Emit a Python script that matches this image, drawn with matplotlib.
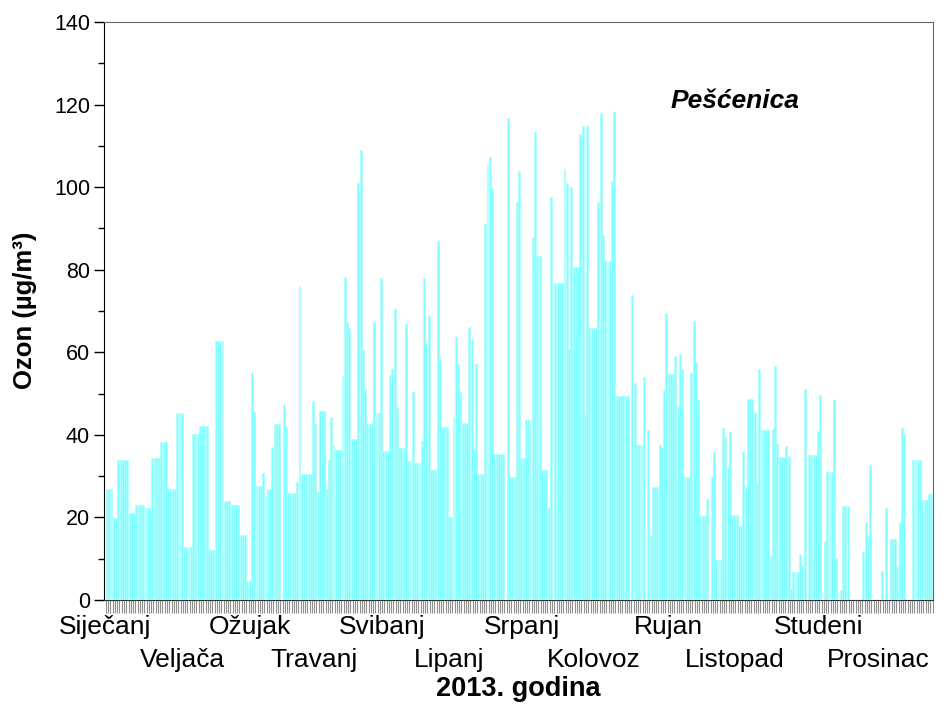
import matplotlib
matplotlib.use("Agg")
import matplotlib.pyplot as plt
import numpy as np

plt.rcParams['font.family'] = ['Liberation Sans', 'DejaVu Sans']

# dnevne vrijednosti ozona (µg/m³), 2013., po mjesecima
sijecanj = [26.8, 26.8, 26.8, 19.8, 19.8, 33.9, 33.9, 33.9, 33.9, 33.9, 21.1, 21.1, 21.1,
            23.0, 23.0, 23.0, 23.0, 22.4, 22.4, 22.4, 34.5, 34.5, 34.5, 34.5, 38.3, 38.3,
            38.3, 27.0, 27.0, 27.0, 27.0]
veljaca = [45.2, 45.2, 45.2, 12.9, 12.9, 12.9, 12.9, 40.2, 40.2, 40.2, 42.1, 42.1, 42.1,
           42.1, 12.1, 12.1, 12.1, 62.8, 62.8, 62.8, 62.8, 24.0, 24.0, 24.0, 23.0, 23.0,
           23.0, 23.0]
ozujak = [15.7, 15.7, 15.7, 4.6, 4.6, 54.9, 45.5, 27.6, 27.6, 27.6, 30.8, 25.3, 27.0,
          27.0, 37.1, 42.6, 42.6, 42.6, 0, 47.2, 42.0, 25.8, 25.8, 25.8, 25.8, 28.6, 76.0,
          30.6, 30.6, 30.6, 30.6]
travanj = [30.6, 48.2, 42.6, 26.1, 45.7, 45.7, 45.7, 26.9, 33.9, 44.4, 37.6, 36.3, 36.3,
           36.3, 54.2, 78.3, 67.3, 66.0, 38.9, 38.9, 38.9, 100.9, 109.0, 60.5, 51.0, 42.6,
           42.6, 42.6, 67.3, 45.2]
svibanj = [45.2, 78.0, 36.2, 36.2, 36.2, 54.5, 55.9, 70.4, 46.4, 36.9, 36.9, 36.9, 66.8,
           33.7, 33.7, 50.5, 33.3, 33.3, 33.3, 38.4, 77.9, 62.0, 68.8, 31.6, 31.6, 31.6,
           87.0, 58.3, 41.8, 41.8, 41.8]
lipanj = [20.0, 20.0, 44.4, 63.8, 57.2, 50.5, 42.9, 42.9, 42.9, 66.2, 63.1, 36.3, 57.1,
          30.5, 30.5, 30.5, 91.1, 105.6, 107.4, 99.7, 35.4, 35.4, 35.4, 35.4, 35.4, 0,
          116.7, 29.9, 29.9, 29.9]
srpanj = [96.3, 103.9, 34.3, 34.3, 43.6, 43.6, 43.6, 87.8, 113.4, 83.3, 83.3, 31.6, 31.6,
          31.6, 22.4, 97.5, 0, 76.7, 76.7, 76.7, 76.7, 104.4, 101.1, 60.7, 100.1, 80.7,
          80.7, 80.7, 112.8, 114.8, 44.8]
kolovoz = [114.8, 66.0, 66.0, 66.0, 66.0, 96.3, 118.0, 88.4, 82.2, 82.2, 82.2, 101.5,
           118.3, 49.4, 49.4, 49.4, 49.4, 49.4, 49.4, 0, 73.9, 52.6, 37.5, 37.5, 37.5, 53.9,
           0, 41.2, 15.5, 27.3, 27.3]
rujan = [27.3, 37.5, 36.9, 50.9, 69.4, 54.7, 54.7, 54.7, 59.1, 46.7, 59.7, 55.9, 29.9,
         29.9, 29.9, 54.9, 67.6, 57.6, 48.4, 20.3, 20.3, 20.3, 24.5, 0, 30.0, 35.8, 9.7,
         9.7, 9.7, 41.6]
listopad = [39.4, 32.3, 40.6, 20.6, 20.6, 20.6, 18.0, 18.0, 35.9, 27.4, 48.6, 48.6, 48.6,
            45.2, 28.3, 55.9, 41.2, 41.2, 41.2, 41.2, 10.7, 41.3, 56.7, 37.8, 34.6, 34.6,
            34.6, 37.3, 34.9, 2.7, 6.9]
studeni = [6.9, 6.9, 11.1, 8.5, 51.0, 0, 35.1, 35.1, 35.1, 35.1, 40.9, 49.6, 0, 14.3,
           31.1, 31.1, 31.1, 48.4, 10.1, 0, 2.4, 22.8, 22.8, 22.8, 0, 0, 0, 0, 0, 0]
prosinac = [11.7, 19.0, 15.5, 32.7, 0, 0, 0, 0, 7.1, 0, 22.2, 0, 14.7, 14.7, 14.7, 7.9,
            19.0, 41.6, 40.2, 0, 0, 0, 33.9, 33.9, 33.9, 33.9, 24.2, 24.2, 24.2, 25.6, 25.6]

mjeseci = ["Siječanj", "Veljača", "Ožujak", "Travanj", "Svibanj", "Lipanj",
           "Srpanj", "Kolovoz", "Rujan", "Listopad", "Studeni", "Prosinac"]
# polozaj natpisa mjeseci (dan u godini)
poz_mjeseci = [-0.4, 33.8, 63.6, 91.9, 121.9, 151.5, 183.7, 215.3, 248.2, 277.4, 314.5, 341.0]

ozon = (sijecanj + veljaca + ozujak + travanj + svibanj + lipanj + srpanj + kolovoz
        + rujan + listopad + studeni + prosinac)
dani = np.arange(len(ozon))

fig = plt.figure(figsize=(9.48, 7.04), dpi=100)
ax = fig.add_axes([0.1097, 0.1477, 0.8745, 0.8211])
ax.bar(dani, ozon, width=0.85, align='edge', color='#7fffff',
       edgecolor='#a8ffff', linewidth=0.4, zorder=3)

ax.set_xlim(-0.9, 365.15)
ax.set_ylim(0, 140)
ax.set_yticks(range(0, 141, 20))
ax.set_yticks(range(10, 140, 20), minor=True)
ax.tick_params(axis='y', which='major', length=7, width=1, labelsize=15.5, pad=3)
ax.tick_params(axis='y', which='minor', length=4, width=1)

ax.set_xticks([])
ax.set_xticks(np.arange(366) - 0.075, minor=True)
ax.tick_params(axis='x', which='minor', length=9, width=0.8, color='#909090')

for s in ['top', 'right']:
    ax.spines[s].set_color('#666666')
ax.spines['bottom'].set_color('#333333')

trans = ax.get_xaxis_transform()
for i, (m, p) in enumerate(zip(mjeseci, poz_mjeseci)):
    yy = -0.047 if i % 2 == 0 else -0.104
    ax.text(p, yy, m, transform=trans, ha='center', va='center', fontsize=19)

ax.text(0.5, -0.154, "2013. godina", transform=ax.transAxes, ha='center', va='center',
        fontsize=19.5, fontweight='bold')
fig.text(0.0264, 0.5597, "Ozon (µg/m³)", rotation=90, ha='center', va='center',
         fontsize=18.5, fontweight='bold')
fig.text(0.7753, 0.856, "Pešćenica", ha='center', va='center', fontsize=19,
         fontweight='bold', fontstyle='italic')

fig.savefig("out.png", dpi=100)
